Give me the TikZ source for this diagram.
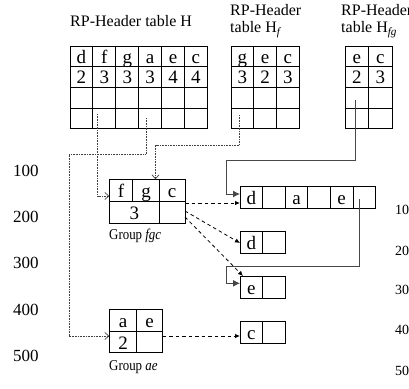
\documentclass[tikz,border=0pt]{standalone}
\usepackage{fontspec}
\setmainfont{Liberation Serif}
\usetikzlibrary{arrows.meta}

\begin{document}
\begin{tikzpicture}[x=1pt,y=-1pt,
  cell/.style={font=\fontsize{19}{19}\selectfont, inner sep=0pt, anchor=base},
  lbl/.style={font=\fontsize{16}{16}\selectfont, inner sep=0pt, anchor=base west},
  grouplbl/.style={font=\fontsize{15}{15}\selectfont, inner sep=0pt, anchor=base west},
  leftnum/.style={font=\fontsize{17}{17}\selectfont, inner sep=0pt, anchor=base west},
  rightnum/.style={font=\fontsize{14}{14}\selectfont, inner sep=0pt, anchor=base west},
  frame/.style={draw, line width=0.9pt, inner sep=0pt, outer sep=0pt},
  tabline/.style={line width=0.9pt},
  dotlink/.style={dash pattern=on 0.7pt off 0.9pt, line width=0.8pt, black!75,
    -{Straight Barb[length=4pt,width=7pt,line width=0.7pt]}},
  dashlink/.style={dash pattern=on 3.5pt off 3pt, line width=0.8pt,
    -{Latex[length=5pt,width=4.5pt]}},
  solidlink/.style={line width=1pt, black!72, -{Latex[length=7pt,width=7pt]}},
]
\clip (0,0) rectangle (409,388);

% ---------- header tables ----------
% table H
\node[frame, minimum width=137.4pt, minimum height=82.7pt] (tabH) at (138.7,87.35) {};
\foreach \x in {92.9,115.8,138.7,161.6,184.5} \draw[tabline] (\x,46) -- (\x,128.7);
\foreach \y in {66.7,87.3,108} \draw[tabline] (70,\y) -- (207.4,\y);
\foreach \t [count=\i from 0] in {d,f,g,a,e,c}
  \node[cell] (H1-\i) at ({81.45+22.9*\i},63.3) {\t};
\foreach \t [count=\i from 0] in {2,3,3,3,4,4}
  \node[cell] (H2-\i) at ({81.45+22.9*\i},83) {\t};
\node[lbl] (labH) at (70,26.7) {RP-Header table H};

% table H_f
\node[frame, minimum width=68.1pt, minimum height=82.7pt] (tabHf) at (265.05,87.35) {};
\foreach \x in {253.7,276.4} \draw[tabline] (\x,46) -- (\x,128.7);
\foreach \y in {66.7,87.3,108} \draw[tabline] (231,\y) -- (299.1,\y);
\foreach \t [count=\i from 0] in {g,e,c}
  \node[cell] (Hf1-\i) at ({242.35+22.7*\i},63.3) {\t};
\foreach \t [count=\i from 0] in {3,2,3}
  \node[cell] (Hf2-\i) at ({242.35+22.7*\i},83) {\t};
\node[lbl] (labHfa) at (230,15.7) {RP-Header};
\node[lbl] (labHfb) at (230,32.7) {table H\textsubscript{\textit{f}}};

% table H_fg
\node[frame, minimum width=47pt, minimum height=82.7pt] (tabHfg) at (368.5,87.35) {};
\draw[tabline] (368.5,46) -- (368.5,128.7);
\foreach \y in {66.7,87.3,108} \draw[tabline] (345,\y) -- (392,\y);
\foreach \t [count=\i from 0] in {e,c}
  \node[cell] (Hfg1-\i) at ({356.75+23.5*\i},63.3) {\t};
\foreach \t [count=\i from 0] in {2,3}
  \node[cell] (Hfg2-\i) at ({356.75+23.5*\i},83) {\t};
\node[lbl] (labHfga) at (341,15.7) {RP-Header};
\node[lbl] (labHfgb) at (341,32.7) {table H\textsubscript{\textit{fg}}};

% ---------- groups ----------
% group fgc
\node[frame, minimum width=75.7pt, minimum height=44pt] (fgc) at (147.15,201.3) {};
\draw[tabline] (109.3,201) -- (185,201);
\draw[tabline] (132.7,179.3) -- (132.7,201);
\draw[tabline] (159.3,179.3) -- (159.3,223.3);
\node[cell] (fgc-f) at (121,197.5) {f};
\node[cell] (fgc-g) at (146,197.5) {g};
\node[cell] (fgc-c) at (172.15,197.5) {c};
\node[cell] (fgc-n) at (134.3,219.5) {3};
\node[grouplbl] (labfgc) at (109,239.5) {\scalebox{0.86}[1]{Group \textit{fgc}}};

% group ae
\node[frame, minimum width=53.4pt, minimum height=43.4pt] (ae) at (136,331) {};
\draw[tabline] (109.3,331) -- (162.7,331);
\draw[tabline] (136.7,309.3) -- (136.7,352.7);
\node[cell] (ae-a) at (123,327) {a};
\node[cell] (ae-e) at (149.7,327) {e};
\node[cell] (ae-n) at (123,349) {2};
\node[grouplbl] (labae) at (109,370) {\scalebox{0.86}[1]{Group \textit{ae}}};

% ---------- node lists ----------
\node[frame, minimum width=135.6pt, minimum height=21.6pt] (row) at (307.8,197.5) {};
\foreach \x in {262.6,285.2,307.8,330.4,353} \draw[tabline] (\x,186.7) -- (\x,208.3);
\node[cell] (row-d) at (251.3,204.5) {d};
\node[cell] (row-a) at (296.5,204.5) {a};
\node[cell] (row-e) at (341.7,204.5) {e};

\node[frame, minimum width=45.2pt, minimum height=21.6pt] (boxd) at (262.6,242.2) {};
\draw[tabline] (262.6,231.4) -- (262.6,253);
\node[cell] (boxd-t) at (251.3,249.5) {d};

\node[frame, minimum width=45.2pt, minimum height=21.6pt] (boxe) at (262.6,287.2) {};
\draw[tabline] (262.6,276.4) -- (262.6,298);
\node[cell] (boxe-t) at (251.3,294.5) {e};

\node[frame, minimum width=45.2pt, minimum height=21.6pt] (boxc) at (262.6,332.2) {};
\draw[tabline] (262.6,321.4) -- (262.6,343);
\node[cell] (boxc-t) at (251.3,339.5) {c};

% ---------- scales ----------
\foreach \v/\y in {100/176,200/222,300/268,400/315,500/361}
  \node[leftnum] (L\v) at (13,\y) {\v};
\foreach \v/\y in {100/214.5,200/255,300/294,400/334.5,500/375}
  \node[rightnum] (R\v) at (395,\y) {\v};

% ---------- links from header tables ----------
\coordinate (srcHf) at (97.5,114);
\coordinate (inF) at (109.3,196);
\draw[dotlink] (srcHf) |- (inF);

\coordinate (srcHa) at (146,118);
\coordinate (bendA) at (69,154);
\coordinate (inA) at (109.3,336);
\draw[dotlink] (srcHa) |- (bendA) |- (inA);

\coordinate (srcHfg) at (239.5,115);
\coordinate (bendG) at (155.5,145);
\coordinate (inG) at (155.5,179.3);
\draw[dotlink] (srcHfg) |- (bendG) -- (inG);

\coordinate (srcE) at (355,100);
\coordinate (bendS1) at (226,160);
\coordinate (inRow) at (240,194);
\draw[solidlink] (srcE) |- (bendS1) |- (inRow);

\coordinate (srcRow) at (359.3,199);
\coordinate (bendS2) at (226,266.7);
\coordinate (inE) at (240,283.3);
\draw[solidlink] (srcRow) |- (bendS2) |- (inE);

% ---------- links from groups ----------
\coordinate (o1) at (185,203);
\coordinate (t1) at (240,203);
\coordinate (o2) at (185,211);
\coordinate (t2) at (240,243);
\coordinate (o3) at (185,217);
\coordinate (t3) at (243,276);
\coordinate (o4) at (162.7,336);
\coordinate (t4) at (240,336);
\draw[dashlink] (o1) -- (t1);
\draw[dashlink] (o2) -- (t2);
\draw[dashlink] (o3) -- (t3);
\draw[dashlink] (o4) -- (t4);
\end{tikzpicture}
\end{document}
